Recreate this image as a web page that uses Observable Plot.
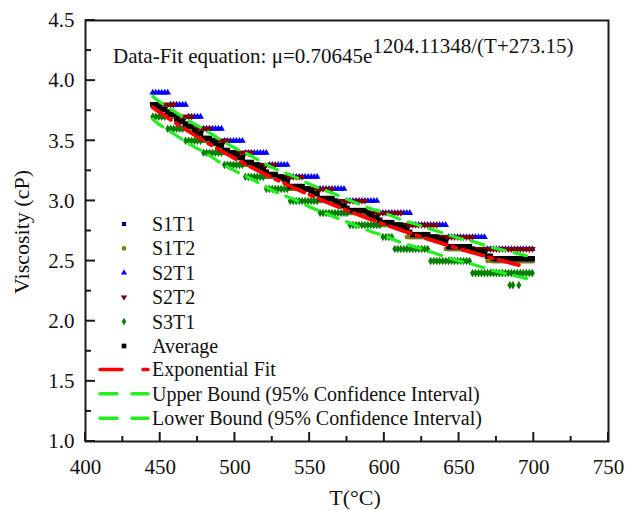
<!DOCTYPE html>
<html><head><meta charset="utf-8">
<script src="https://cdn.jsdelivr.net/npm/d3@7"></script>
<script src="https://cdn.jsdelivr.net/npm/@observablehq/plot@0.6"></script>
<style>
body{margin:0;background:#fff;}
#wrap{position:relative;width:637px;height:510px;font-family:"Liberation Serif","Times New Roman",serif;background:#fff;}
#wrap svg.overlay{position:absolute;left:0;top:0;pointer-events:none;}
</style></head><body><div id="wrap"></div>
<script>
// ---- axis ticks ----
const xTicks = [400, 450, 500, 550, 600, 650, 700, 750];
const xMinor = [425, 475, 525, 575, 625, 675, 725];
const yTicks = [1.0, 1.5, 2.0, 2.5, 3.0, 3.5, 4.0, 4.5];
const yMinor = [1.25, 1.75, 2.25, 2.75, 3.25, 3.75, 4.25];

// ---- measured series, read as plateaus [T from, T to, viscosity] (0.1 cP resolution) ----
const S1T1 = [[445,450,3.8],[450,462,3.7],[462,475,3.6],[475,488,3.5],[488,502,3.4],[502,518,3.3],[518,534,3.2],[534,552,3.1],[552,571,3.0],[571,592,2.9],[592,616,2.8],[616,642,2.7],[642,672,2.6],[672,701,2.5]];
const S1T2 = [[445,448,3.8],[448,460,3.7],[460,473,3.6],[473,486,3.5],[486,500,3.4],[500,516,3.3],[516,532,3.2],[532,550,3.1],[550,569,3.0],[569,590,2.9],[590,614,2.8],[614,640,2.7],[640,668,2.6],[668,701,2.5]];
const S2T1 = [[445,456,3.9],[456,468,3.8],[468,479,3.7],[479,492,3.6],[492,506,3.5],[506,522,3.4],[522,537,3.3],[537,556,3.2],[556,575,3.1],[575,596,3.0],[596,619,2.9],[619,643,2.8],[643,668,2.7],[668,701,2.6]];
const S2T2 = [[445,460,3.8],[460,472,3.7],[472,484,3.6],[484,497,3.5],[497,512,3.4],[512,528,3.3],[528,546,3.2],[546,566,3.1],[566,588,3.0],[588,612,2.9],[612,636,2.8],[636,660,2.7],[660,701,2.6]];
const S3T1 = [[445,455,3.7],[455,466,3.6],[466,478,3.5],[478,492,3.4],[492,506,3.3],[506,520,3.2],[520,537,3.1],[537,556,3.0],[556,576,2.9],[576,598,2.8],[598,607,2.7],[607,631,2.6],[631,659,2.5],[659,701,2.4]];
const S3T1_extra = [[684,2.3],[686,2.3],[690,2.3]];
const sampleStart = 445, sampleEnd = 700, sampleStep = 2; // measurement temperature spacing (°C)

// ---- fit curve and confidence bounds ----
const fitT = [445,450,460,470,480,490,500,510,520,530,540,550,560,570,580,590,600,610,620,630,640,650,660,670,680,690,700];
const fitV = [3.778,3.734,3.650,3.571,3.495,3.422,3.353,3.287,3.224,3.164,3.106,3.051,2.997,2.946,2.898,2.851,2.805,2.762,2.720,2.680,2.641,2.603,2.567,2.532,2.499,2.466,2.435];
const upperV = [3.87,3.82,3.74,3.66,3.59,3.51,3.44,3.38,3.31,3.25,3.20,3.14,3.09,3.04,2.99,2.94,2.90,2.85,2.81,2.77,2.73,2.69,2.66,2.62,2.59,2.56,2.53];
const lowerV = [3.68,3.63,3.55,3.47,3.40,3.32,3.25,3.19,3.12,3.06,3.01,2.95,2.90,2.85,2.80,2.75,2.71,2.66,2.62,2.58,2.54,2.50,2.47,2.43,2.40,2.37,2.34];
const fitEnd = 690;

const seriesNames = ["S1T1","S1T2","S2T1","S2T2","S3T1","Average"];
const seriesColors = ["#000080","#808000","#0000ff","#800000","#008000","#000000"];
const seriesSymbols = ["square","circle","triangle","triangle","diamond","square"];
const legendLines = ["Exponential Fit","Upper Bound (95% Confidence Interval)","Lower Bound (95% Confidence Interval)"];
const annotationMain = "Data-Fit equation: \u03bc=0.70645e";
const annotationSup = "1204.11348/(T+273.15)";
const xLabel = "T(\u00b0C)";
const yLabel = "Viscosity (cP)";

// ---- build tables ----
const temps = [];
for (let t = sampleStart; t <= sampleEnd; t += sampleStep) temps.push(t);
function lookup(plateaus, t) {
  for (const [a, b, v] of plateaus) if (t >= a && t < b) return v;
  return null;
}
const raw = [S1T1, S1T2, S2T1, S2T2, S3T1];
const tables = raw.map((p, i) => temps.map(t => ({T: t, v: lookup(p, t), s: seriesNames[i]})).filter(d => d.v != null));
tables[4] = tables[4].concat(S3T1_extra.map(([T, v]) => ({T, v, s: "S3T1"})));
const average = temps.map(t => ({T: t, v: d3.mean(raw, p => lookup(p, t)), s: "Average"}));
tables.push(average);

const fit = fitT.map((T, i) => ({T, v: fitV[i]})).filter(d => d.T <= fitEnd);
const upper = fitT.map((T, i) => ({T, v: upperV[i]}));
const lower = fitT.map((T, i) => ({T, v: lowerV[i]}));

const radii = [2.4, 2.2, 2.5, 2.5, 2.6, 3.0];
const dotMarks = tables.map((tb, i) => Plot.dot(tb, {
  x: "T", y: "v", symbol: () => seriesSymbols[i], fill: seriesColors[i], stroke: "none",
  r: radii[i], rotate: i === 3 ? 180 : 0
}));

const W = 637, H = 510, mL = 85, mR = 29, mT = 20, mB = 69;
const FONT = "'Liberation Serif', 'Times New Roman', serif";

const chart = Plot.plot({
  width: W, height: H,
  marginLeft: mL, marginRight: mR, marginTop: mT, marginBottom: mB,
  x: {domain: [400, 750]},
  y: {domain: [1.0, 4.5]},
  style: {fontFamily: FONT, fontSize: "21px", background: "white", color: "black"},
  marks: [
    ...dotMarks,
    Plot.line(upper, {x: "T", y: "v", stroke: "#22ee22", strokeWidth: 3.2, strokeDasharray: "13,9", curve: "natural"}),
    Plot.line(lower, {x: "T", y: "v", stroke: "#22ee22", strokeWidth: 3.2, strokeDasharray: "13,9", curve: "natural"}),
    Plot.line(fit, {x: "T", y: "v", stroke: "#ff0000", strokeWidth: 3.8, strokeDasharray: "22,6,4,6", curve: "natural"}),
    Plot.axisX(xTicks, {tickSize: 0, tickPadding: 18, label: null, tickFormat: d => String(d), fontSize: 21, fill: "#111"}),
    Plot.axisY(yTicks, {tickSize: 0, tickPadding: 11, label: null, tickFormat: d3.format(".1f"), fontSize: 21, fill: "#111"}),
    Plot.frame({stroke: "#1a1a1a", strokeWidth: 2})
  ]
});

const wrap = document.getElementById("wrap");
wrap.appendChild(chart);

// ---- overlay: inward ticks (placed with the chart's own scales), annotation, legend, axis titles ----
const sx = chart.scale("x"), sy = chart.scale("y");
const svg = d3.select(wrap).append("svg").attr("class", "overlay")
  .attr("width", W).attr("height", H)
  .style("font-family", FONT);

const yBottom = sy.apply(yTicks[0]);
const xLeft = sx.apply(xTicks[0]);
function tick(x1, y1, x2, y2) {
  svg.append("line").attr("x1", x1).attr("y1", y1).attr("x2", x2).attr("y2", y2)
    .attr("stroke", "#1a1a1a").attr("stroke-width", 2);
}
xTicks.forEach(v => tick(sx.apply(v), yBottom, sx.apply(v), yBottom - 9));
xMinor.forEach(v => tick(sx.apply(v), yBottom, sx.apply(v), yBottom - 5));
yTicks.forEach(v => tick(xLeft, sy.apply(v), xLeft + 10, sy.apply(v)));
yMinor.forEach(v => tick(xLeft, sy.apply(v), xLeft + 6, sy.apply(v)));

const ann = svg.append("text").attr("x", 113).attr("y", 63).attr("font-size", 21).attr("fill", "#111");
ann.append("tspan").text(annotationMain);
ann.append("tspan").attr("dy", -10).text(annotationSup);

svg.append("text").attr("x", 355).attr("y", 505).attr("text-anchor", "middle").attr("font-size", 22).attr("fill", "#111").text(xLabel);
svg.append("text").attr("transform", "translate(29,232) rotate(-90)").attr("text-anchor", "middle").attr("font-size", 22).attr("fill", "#111").text(yLabel);

const rowY0 = 224, rowDy = 24.4, markX = 124, textX = 152;
seriesNames.forEach((name, i) => {
  const y = rowY0 + i * rowDy;
  const sym = d3.symbol().type({square: d3.symbolSquare, circle: d3.symbolCircle, triangle: d3.symbolTriangle, diamond: d3.symbolDiamond}[seriesSymbols[i]]).size(i === 5 ? 22 : 17);
  svg.append("path").attr("d", sym()).attr("transform", `translate(${markX},${y}) rotate(${i === 3 ? 180 : 0})`).attr("fill", seriesColors[i]);
  svg.append("text").attr("x", textX).attr("y", y).attr("dy", "0.35em").attr("font-size", 20).attr("fill", "#111").text(name);
});
const lineStyles = [
  {color: "#ff0000", segs: [[100, 122], [143, 148]]},
  {color: "#22ee22", segs: [[100, 117], [132, 148]]},
  {color: "#22ee22", segs: [[100, 117], [132, 148]]}
];
legendLines.forEach((name, j) => {
  const y = rowY0 + (6 + j) * rowDy - 1;
  lineStyles[j].segs.forEach(([a, b]) => {
    svg.append("line").attr("x1", a).attr("x2", b).attr("y1", y).attr("y2", y)
      .attr("stroke", lineStyles[j].color).attr("stroke-width", 3.5).attr("stroke-linecap", "round");
  });
  svg.append("text").attr("x", textX).attr("y", y).attr("dy", "0.35em").attr("font-size", 20).attr("fill", "#111").text(name);
});
</script></body></html>
